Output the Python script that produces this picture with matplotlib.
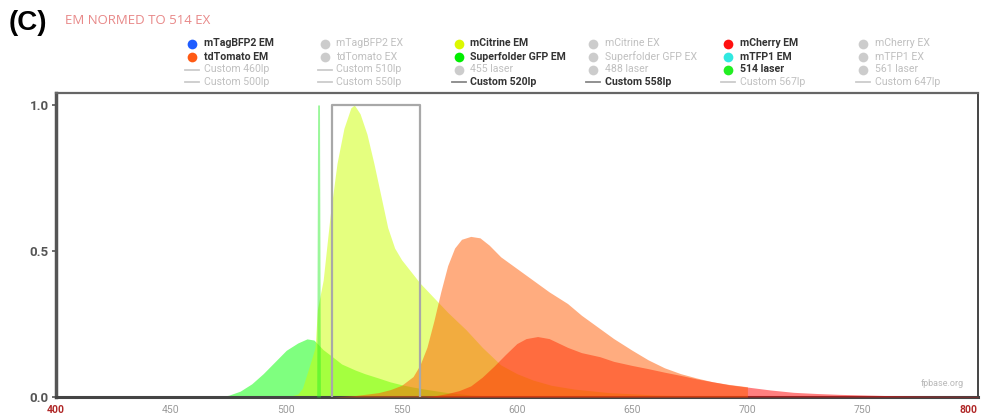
import matplotlib.pyplot as plt
import numpy as np

# espectros de emision normalizados a la excitacion en 514 nm
sfgfp_wl = [470, 475, 480, 485, 490, 495, 500, 505, 509, 512, 516, 520, 524, 530, 534, 540,
            545, 550, 555, 560, 565, 570, 580, 590, 600, 610]
sfgfp_em = [0, 0.006, 0.02, 0.045, 0.08, 0.12, 0.16, 0.185, 0.199, 0.195, 0.162, 0.138, 0.113,
            0.092, 0.08, 0.065, 0.052, 0.042, 0.034, 0.027, 0.021, 0.015, 0.007, 0.003, 0.001, 0]

mcitrine_wl = [500, 505, 507, 509, 511, 512.5, 513.5, 516, 519, 522, 525, 528, 529.5, 532, 535,
               538, 541, 544, 547, 550, 555, 558, 564, 570, 578, 585, 593, 600, 607, 615, 625,
               640, 660, 680, 700]
mcitrine_em = [0, 0.01, 0.03, 0.08, 0.13, 0.17, 0.3, 0.4, 0.62, 0.8, 0.92, 0.99, 1.0, 0.97, 0.9,
               0.8, 0.69, 0.58, 0.51, 0.47, 0.42, 0.39, 0.34, 0.29, 0.23, 0.17, 0.11, 0.08, 0.058,
               0.04, 0.027, 0.015, 0.007, 0.003, 0]

tdtomato_wl = [520, 530, 540, 545, 550, 555, 558, 561, 564, 567, 570, 573, 576, 580, 584, 588,
               593, 600, 607, 614, 622, 628, 635, 642, 650, 657, 664, 671, 678, 685, 692, 700]
tdtomato_em = [0, 0.005, 0.015, 0.025, 0.04, 0.07, 0.11, 0.17, 0.26, 0.36, 0.45, 0.51, 0.54,
               0.55, 0.545, 0.52, 0.48, 0.44, 0.40, 0.36, 0.32, 0.28, 0.24, 0.20, 0.16, 0.127,
               0.10, 0.08, 0.065, 0.052, 0.043, 0.035]

mcherry_wl = [560, 565, 570, 575, 580, 585, 590, 595, 600, 604, 609, 614, 618, 622, 628, 636,
              642, 650, 657, 664, 671, 678, 685, 692, 700, 710, 720, 730, 740, 750, 760, 780, 800]
mcherry_em = [0, 0.005, 0.012, 0.022, 0.038, 0.068, 0.105, 0.145, 0.183, 0.2, 0.207, 0.2, 0.185,
              0.17, 0.152, 0.138, 0.122, 0.108, 0.097, 0.085, 0.074, 0.062, 0.052, 0.042, 0.034,
              0.024, 0.016, 0.012, 0.009, 0.007, 0.005, 0.003, 0.002]

laser_wl = [513.2, 513.6, 514.4, 514.8]
laser_val = [0, 1.0, 1.0, 0]

filtro_wl = [520, 520, 558, 558]
filtro_val = [0, 1.0, 1.0, 0]

xticks = [400, 450, 500, 550, 600, 650, 700, 750, 800]
yticks = [0.0, 0.5, 1.0]

# leyenda: (texto, tipo, color, activo), por columnas
leyenda = [
    ('mTagBFP2 EM', 'dot', '#1f5cff', True), ('tdTomato EM', 'dot', '#ff5a14', True),
    ('Custom 460lp', 'line', '#cccccc', False), ('Custom 500lp', 'line', '#cccccc', False),
    ('mTagBFP2 EX', 'dot', '#cccccc', False), ('tdTomato EX', 'dot', '#cccccc', False),
    ('Custom 510lp', 'line', '#cccccc', False), ('Custom 550lp', 'line', '#cccccc', False),
    ('mCitrine EM', 'dot', '#dcf800', True), ('Superfolder GFP EM', 'dot', '#00ee00', True),
    ('455 laser', 'dot', '#cccccc', False), ('Custom 520lp', 'line', '#888888', True),
    ('mCitrine EX', 'dot', '#cccccc', False), ('Superfolder GFP EX', 'dot', '#cccccc', False),
    ('488 laser', 'dot', '#cccccc', False), ('Custom 558lp', 'line', '#888888', True),
    ('mCherry EM', 'dot', '#ff1010', True), ('mTFP1 EM', 'dot', '#30e8e0', True),
    ('514 laser', 'dot', '#22ee22', True), ('Custom 567lp', 'line', '#cccccc', False),
    ('mCherry EX', 'dot', '#cccccc', False), ('mTFP1 EX', 'dot', '#cccccc', False),
    ('561 laser', 'dot', '#cccccc', False), ('Custom 647lp', 'line', '#cccccc', False),
]

W, H = 984, 418
fig = plt.figure(figsize=(W / 100, H / 100), dpi=100)
ax = fig.add_axes([55.7 / W, 1 - 397 / H, (978 - 55.7) / W, (397 - 93) / H])

# mCherry debajo de tdTomato para que la mezcla quede anaranjada
ax.fill_between(sfgfp_wl, sfgfp_em, color='#00ff00', alpha=0.5, lw=0, zorder=1)
ax.fill_between(mcitrine_wl, mcitrine_em, color='#ccff00', alpha=0.5, lw=0, zorder=2)
ax.fill_between(mcherry_wl, mcherry_em, color='#ff0000', alpha=0.5, lw=0, zorder=3)
ax.fill_between(tdtomato_wl, tdtomato_em, color='#ff5a00', alpha=0.5, lw=0, zorder=4)
ax.fill_between(laser_wl, laser_val, color='#22ee22', alpha=0.45, lw=0, zorder=5)
ax.plot(filtro_wl, filtro_val, color='#a8a8a8', lw=1.6, zorder=6)

ax.set_xlim(400, 800)
ax.set_ylim(0, 1.041)
ax.set_xticks(xticks)
ax.set_xticklabels([str(t) for t in xticks], family='Roboto', fontsize=7.5)
for lbl, t in zip(ax.get_xticklabels(), xticks):
    lbl.set_color('#b02828' if t in (400, 800) else '#9a9a9a')
    if t == 800:
        lbl.set_horizontalalignment('right')
        lbl.set_fontweight('bold')
    if t == 400:
        lbl.set_fontweight('bold')
ax.set_yticks(yticks)
ax.set_yticklabels(['0.0', '0.5', '1.0'], family='Roboto', fontsize=9.5,
                   fontweight='bold', color='#555555')
ax.tick_params(axis='x', length=0, pad=6)
ax.tick_params(axis='y', length=3, width=1.2, color='#555555', pad=2)

ax.spines['left'].set_linewidth(2.5)
ax.spines['left'].set_color('#555555')
ax.spines['bottom'].set_linewidth(2.2)
ax.spines['bottom'].set_color('#444444')
ax.spines['top'].set_linewidth(1.6)
ax.spines['top'].set_color('#666666')
ax.spines['right'].set_linewidth(1.4)
ax.spines['right'].set_color('#444444')

ax.text(0.985, 0.045, 'fpbase.org', transform=ax.transAxes, ha='right', va='center',
        family='Roboto', fontsize=6.5, color='#b8b8b8')

# capa en pixeles para titulo y leyenda
lax = fig.add_axes([0, 0, 1, 1], zorder=-1)
lax.set_xlim(0, W)
lax.set_ylim(H, 0)
lax.axis('off')

lax.text(9, 23, '(C)', fontsize=20, fontweight='bold', family='Liberation Sans',
         va='center', color='black')
lax.text(65, 21, 'EM NORMED TO 514 EX', fontsize=9.5, family='Open Sans', va='center',
         color='#e88888')

col_x = [191.5, 324.5, 458.5, 593, 727.5, 863]
fila_y = [43.5, 56.5, 69.5, 81.7]
for i, (texto, tipo, color, activo) in enumerate(leyenda):
    x = col_x[i // 4]
    y = fila_y[i % 4]
    if tipo == 'dot':
        lax.plot([x], [y], 'o', ms=7, color=color, mec='none')
    else:
        lax.plot([x - 7, x + 7], [y, y], color=color, lw=1.3)
    lax.text(x + 12, y, texto, fontsize=7.6, family='Roboto', va='center',
             fontweight='bold' if activo else 'normal',
             color='#333333' if activo else '#c0c0c0')

fig.savefig('out.png', dpi=100)
